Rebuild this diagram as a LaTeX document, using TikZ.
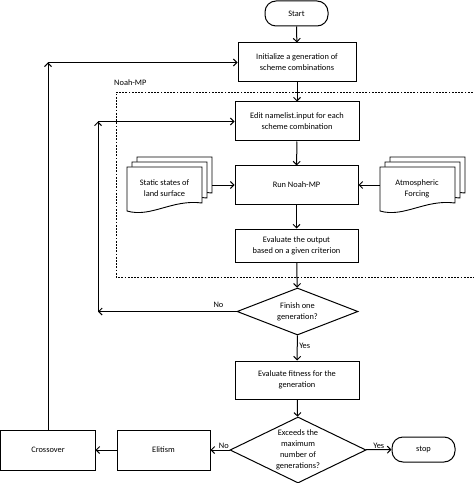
\documentclass[tikz,border=0pt]{standalone}
\usepackage{fontspec}
\setmainfont{Carlito}
\usetikzlibrary{arrows.meta,shapes.geometric,calc}
\tikzset{
  txt/.style={font=\fontsize{8.4}{11}\selectfont, align=center, inner sep=0pt},
  procbox/.style={txt, draw, line width=1bp, fill=white},
  termbox/.style={txt, draw, line width=1bp, rounded corners=11bp, minimum width=63bp, minimum height=25bp},
  decision/.style={draw, line width=1bp, shape=diamond, inner sep=0pt},
  helper/.style={inner sep=0pt, draw=none},
  arr/.style={line width=1bp, -{Straight Barb[length=3.5bp,width=7bp]}},
  conn/.style={line width=1bp},
  dashframe/.style={line width=0.7bp, dash pattern=on 1.8bp off 1.4bp},
  pagestyle/.style={line width=0.9bp, fill=white},
}
\newcommand{\docpage}[2]{%
  \begin{scope}[shift={(#1,#2)}]
    \draw[pagestyle] (0,0) -- (75,0) -- (75,36) .. controls (45,32) and (24,51) .. (0,44) -- cycle;
  \end{scope}}
\begin{document}
\begin{tikzpicture}[x=1bp,y=-1bp]
\useasboundingbox (0,0) rectangle (474,483);

% dashed Noah-MP frame
\draw[dashframe] (476,92) -- (116,92) -- (116,277) -- (476,277);
\node[txt, anchor=west] (noahlabel) at (114,83) {Noah-MP};

% nodes
\node[termbox] (start) at (296.5,13.5) {Start};
\node[procbox, minimum width=118bp, minimum height=39bp] (init) at (297,62.5) {Initialize a generation of\\scheme combinations};
\node[procbox, minimum width=124bp, minimum height=39bp] (edit) at (297,121.5) {Edit namelist.input for each\\scheme combination};
\node[procbox, minimum width=123bp, minimum height=38bp] (run) at (296.5,185) {Run Noah-MP};
\node[procbox, minimum width=123bp, minimum height=33bp] (evalout) at (296.5,245.5) {Evaluate the output\\based on a given criterion};
\node[decision, minimum width=121bp, minimum height=47bp] (d1) at (297.5,311.5) {};
\node[txt] (d1text) at (297.5,311.5) {Finish one\\generation?};
\node[procbox, minimum width=124bp, minimum height=38bp] (fit) at (297,380) {Evaluate fitness for the\\generation};
\node[decision, minimum width=136bp, minimum height=66bp] (d2) at (298,450) {};
\node[txt] (d2text) at (298,450) {Exceeds the\\maximum\\number of\\generations?};
\node[termbox] (stop) at (423.5,449.5) {stop};
\node[procbox, minimum width=93bp, minimum height=40bp] (elit) at (163.5,450) {Elitism};
\node[procbox, minimum width=94bp, minimum height=40bp] (cross) at (48,450) {Crossover};

% document stacks
\docpage{137}{157}\docpage{132}{162}\docpage{127}{167}
\docpage{390}{157}\docpage{385}{162}\docpage{380}{167}
\node[helper, minimum width=85bp, minimum height=54bp] (static) at (169.5,184) {};
\node[helper, minimum width=85bp, minimum height=54bp] (atmos) at (422.5,184) {};
\node[txt] (statictext) at (164.5,188) {Static states of\\land surface};
\node[txt] (atmostext) at (417,189) {Atmospheric\\Forcing};

% connectors
\draw[arr] (start) -- (init);
\draw[arr] (init) -- (edit);
\draw[arr] (edit) -- (run);
\draw[arr] (run) -- (evalout);
\draw[arr] (evalout) -- (d1);
\draw[arr] (static.east |- run.west) -- (run.west);
\draw[arr] (atmos.west |- run.east) -- (run.east);
\draw[arr] (d1) -- node[txt, pos=0.4, anchor=west, xshift=1.5bp] (yes1) {Yes} (fit);
\draw[arr] (fit) -- (d2);
\draw[arr] (d2) -- node[txt, above, yshift=1bp] (yes2) {Yes} (stop);
\draw[arr] (d2) -- node[txt, above, pos=0.3, yshift=1bp] (no2) {No} (elit);
\draw[arr] (elit) -- (cross);

\coordinate (loopA) at (cross.north |- init.west);
\draw[arr] (cross.north) -- (loopA);
\draw[arr] (loopA) -- (init.west);

\coordinate (loopB) at (98,121.5);
\coordinate (loopC) at (loopB |- d1.west);
\draw[arr] (d1.west) -- node[txt, above, pos=0.13, yshift=3bp] (no1) {No} (loopC);
\draw[arr] (loopC) -- (loopB);
\draw[arr] (loopB) -- (edit.west);
\end{tikzpicture}
\end{document}
